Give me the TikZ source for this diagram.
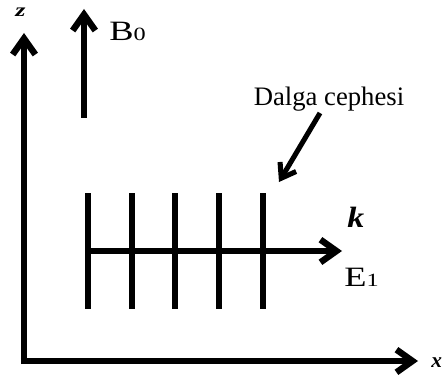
\documentclass[tikz,border=0pt]{standalone}
\usepackage{fontspec}
\setmainfont{Liberation Serif}
\usetikzlibrary{arrows.meta}

\begin{document}
\begin{tikzpicture}[x=0.75pt,y=-0.75pt,
    vec/.style={line width=4.8pt,-{Straight Barb[length=12pt,width=17pt]}},
    front/.style={line width=5pt},
    lbl/.style={inner sep=0pt,anchor=base west}]
    \useasboundingbox (0,0) rectangle (442,381);

    % axes
    \coordinate (o) at (24,361);
    \coordinate (ztip) at (24,33);
    \coordinate (xtip) at (418,361);
    \draw[vec] ([yshift=-2.4pt]o) -- (ztip);
    \draw[vec] ([xshift=-2.4pt]o) -- (xtip);
    \node[lbl,xscale=1.4,font=\fontsize{14}{14}\selectfont] (zlab) at (15,17) {\textbf{\textit{z}}};
    \node[lbl,font=\fontsize{16}{16}\selectfont] (xlab) at (431,367) {\textbf{\textit{x}}};

    % magnetic field
    \coordinate (bfoot) at (84,118);
    \coordinate (btip) at (84,9);
    \draw[vec] (bfoot) -- (btip);
    \node[lbl,xscale=1.3,font=\fontsize{21}{21}\selectfont] (bzero) at (109,41) {B{\fontsize{14}{14}\selectfont 0}};

    % wave fronts
    \foreach \i/\xx in {1/88,2/132,3/175,4/219,5/263} {
        \coordinate (top\i) at (\xx,193);
        \coordinate (bot\i) at (\xx,309);
        \draw[front] (top\i) -- (bot\i);
    }

    % wave vector
    \coordinate (ktip) at (342,251);
    \draw[vec] (88,251) -- (ktip);
    \node[lbl,xscale=1.15,font=\fontsize{22}{22}\selectfont] (klab) at (347,227) {\textbf{\textit{k}}};
    \node[lbl,xscale=1.3,font=\fontsize{21}{21}\selectfont] (elab) at (344,286) {E{\fontsize{14}{14}\selectfont 1}};

    % label of the fronts
    \node[inner sep=0pt,anchor=base,font=\fontsize{20}{20}\selectfont] (front) at (329,106) {Dalga cephesi};
    \coordinate (fronttip) at (279,182);
    \draw[line width=3.8pt,-{Straight Barb[length=10pt,width=14pt]}] (320,113) -- (fronttip);
\end{tikzpicture}
\end{document}
